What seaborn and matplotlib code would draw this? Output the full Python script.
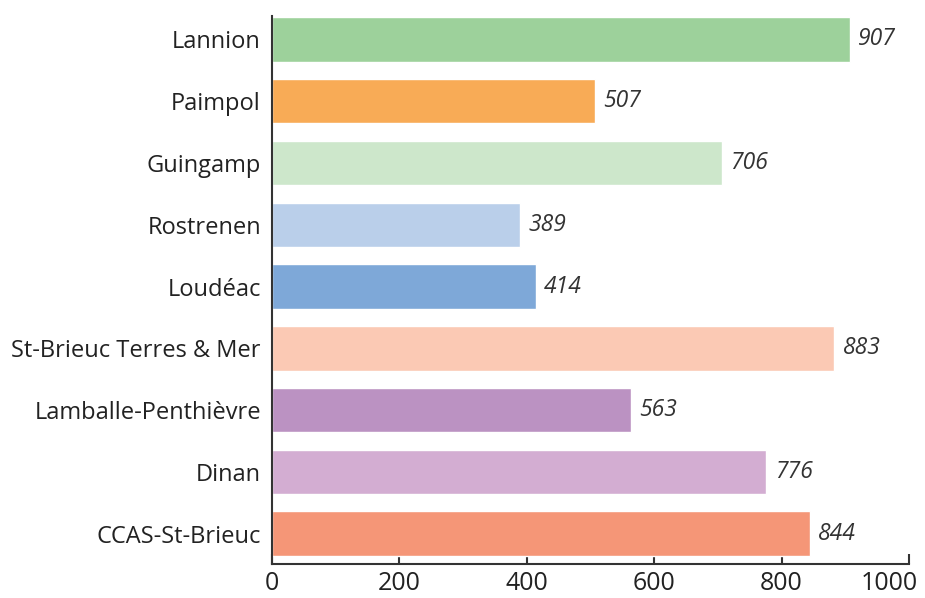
import pandas as pd
import seaborn as sns
import matplotlib.pyplot as plt
from matplotlib.transforms import offset_copy

# données
structures = ['Lannion', 'Paimpol', 'Guingamp', 'Rostrenen', 'Loudéac',
              'St-Brieuc Terres & Mer', 'Lamballe-Penthièvre', 'Dinan', 'CCAS-St-Brieuc']
valeurs = [907, 507, 706, 389, 414, 883, 563, 776, 844]
couleurs = ['#9dd19b', '#f8ab56', '#cde7cb', '#bacfea', '#7ea8d8',
            '#fbc9b4', '#bb92c2', '#d3add2', '#f59677']
graduations = [0, 200, 400, 600, 800, 1000]

df = pd.DataFrame({'Structure': structures, 'Valeur': valeurs})

sns.set_style('white')
plt.rcParams['font.family'] = ['Open Sans', 'DejaVu Sans']

fig = plt.figure(figsize=(9.25, 5.98), dpi=100)
ax = fig.add_axes([272 / 925, 34 / 598, 637 / 925, 548 / 598])

sns.barplot(data=df, x='Valeur', y='Structure', hue='Structure', palette=couleurs,
            orient='h', width=0.72, legend=False, saturation=1, ax=ax)

for cont in ax.containers:
    ax.bar_label(cont, padding=6, fontsize=16.5, fontstyle='italic', color='#333333')

ax.set_xlim(0, 1000)
ax.set_ylim(8.49, -0.38)
ax.set_xticks(graduations)
ax.set_xlabel('')
ax.set_ylabel('')
ax.tick_params(axis='x', bottom=True, direction='in', length=7, width=1.5, color='#333333',
               labelsize=18, labelcolor='#222222', pad=5)
ax.tick_params(axis='y', left=False, length=0, labelsize=17, labelcolor='#222222', pad=8)
for s in ['top', 'right']:
    ax.spines[s].set_visible(False)
for s in ['left', 'bottom']:
    ax.spines[s].set_color('#333333')
    ax.spines[s].set_linewidth(1.5)

# le dernier libellé est calé pour rester dans l'image
fig.canvas.draw()
dernier = ax.get_xticklabels()[-1]
dernier.set_horizontalalignment('right')
dernier.set_transform(offset_copy(dernier.get_transform(), fig=fig, x=9, y=0, units='dots'))

fig.savefig('out.png', dpi=100)
